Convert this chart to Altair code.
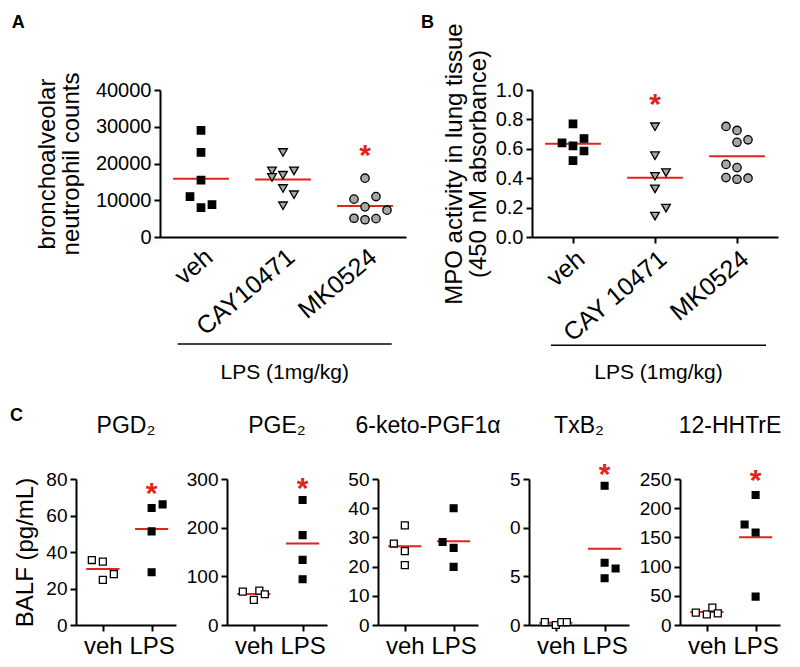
import altair as alt
import pandas as pd

FONT = "Liberation Sans"
RED = "#e2231a"
GRAY = "#a6a6a6"
SLOT_PX = 11.0

# ---------------- Panel A: bronchoalveolar neutrophil counts ----------------
A_GROUPS = ["veh", "CAY10471", "MK0524"]
A_VEH = [29000, 23000, 15500, 11000, 8000, 8800]
A_VEH_SLOT = [0, 0, 0, -1, 0, 1]
A_CAY = [23000, 18000, 18000, 16200, 16800, 13200, 11500, 8500]
A_CAY_SLOT = [0, -1, 1, -1, 0, 0, 1, 0]
A_MK = [16000, 10300, 11000, 8200, 7300, 5100, 4700, 5000]
A_MK_SLOT = [0, -1, 1, 0, 2, -1, 0, 1]
A_YTICKS = [0, 10000, 20000, 30000, 40000]
A_STAR = [(2, 24300)]
A_YTITLE = ["bronchoalveolar", "neutrophil counts"]

# ---------------- Panel B: MPO activity ----------------
B_GROUPS = ["veh", "CAY 10471", "MK0524"]
B_VEH = [0.77, 0.64, 0.67, 0.62, 0.585, 0.52]
B_VEH_SLOT = [0, -1, 1, 0, 1, 0]
B_CAY = [0.75, 0.553, 0.413, 0.438, 0.327, 0.196, 0.142]
B_CAY_SLOT = [0, 0, 0, 1, 0, 1, 0]
B_MK = [0.752, 0.725, 0.644, 0.661, 0.494, 0.472, 0.404, 0.393, 0.400]
B_MK_SLOT = [-1, 0, 0, 1, -1, 0, -1, 0, 1]
B_YTICKS = [0, 0.2, 0.4, 0.6, 0.8, 1.0]
B_STAR = [(1, 0.95)]
B_YTITLE = ["MPO activity in lung tissue", "(450 nM absorbance)"]

LPS_TEXT = "LPS (1mg/kg)"

# ---------------- Panel C: BALF eicosanoids ----------------
C_GROUPS = ["veh", "LPS"]
C_YTITLE = "BALF (pg/mL)"

PGD2_TITLE = "PGD₂"
PGD2_VEH = [35.6, 34.7, 24.7, 27.9]
PGD2_VEH_SLOT = [-1, 0, 0, 1]
PGD2_LPS = [64.1, 66.1, 51.3, 28.9]
PGD2_LPS_SLOT = [0, 1, 0, 0]
PGD2_YTICKS = [0, 20, 40, 60, 80]
PGD2_STAR = [(1, 76)]

PGE2_TITLE = "PGE₂"
PGE2_VEH = [68.6, 51.5, 70.7, 63.2]
PGE2_VEH_SLOT = [-1, 0, 0.5, 1]
PGE2_LPS = [256.8, 184.7, 133.9, 94.0]
PGE2_LPS_SLOT = [0, 0, 0, 0]
PGE2_YTICKS = [0, 100, 200, 300]
PGE2_STAR = [(1, 295)]

KETO_TITLE = "6-keto-PGF1α"
KETO_VEH = [34.1, 27.9, 25.3, 20.5]
KETO_VEH_SLOT = [0, -1, 0, 0]
KETO_LPS = [40.0, 28.4, 26.4, 19.9]
KETO_LPS_SLOT = [0, -1, 0, 0]
KETO_YTICKS = [0, 10, 20, 30, 40, 50]
KETO_STAR = []

TXB2_TITLE = "TxB₂"
TXB2_VEH = [0.3, 0.0, 0.3, 0.3]
TXB2_VEH_SLOT = [-1, 0, 0.5, 1]
TXB2_LPS = [14.3, 6.4, 5.8, 4.8]
TXB2_LPS_SLOT = [0, 0, 1, 0]
TXB2_YTICKS = [0, 5, 10, 15]
TXB2_STAR = [(1, 16.2)]

HHT_TITLE = "12-HHTrE"
HHT_VEH = [21.2, 18.3, 29.7, 20.0]
HHT_VEH_SLOT = [-1, 0, 0.5, 1]
HHT_LPS = [222.5, 172.2, 158.5, 48.6]
HHT_LPS_SLOT = [0, -1, 0, 0]
HHT_YTICKS = [0, 50, 100, 150, 200, 250]
HHT_STAR = [(1, 261)]

# ---------------- styles / layout ----------------
AB_STYLES = [("square", "black", 55), ("triangle-down", GRAY, 75), ("circle", GRAY, 70)]
C_STYLES = [("square", "white", 48), ("square", "black", 46)]

AB_W, AB_H = 246, 147
C_W, C_H = 100, 146
AB_XDOM = [-0.5, 2.5]
C_XDOM = [-0.55, 1.5]
HALF_LINE = 0.34

ONE = pd.DataFrame({"k": [0]})


def points_df(value_lists, slot_lists, styles, step_px):
    rows = []
    for i, (vals, slots) in enumerate(zip(value_lists, slot_lists)):
        shape, fill, size = styles[i]
        for v, s in zip(vals, slots):
            rows.append(dict(idx=i, value=v, xpos=i + s * SLOT_PX / step_px,
                             shape=shape, fill=fill, size=size))
    return pd.DataFrame(rows)


def label_expr(labels):
    return "[" + ",".join("'" + l + "'" for l in labels) + "][datum.value]"


def txt(text, x, y, size, weight="normal", align="center"):
    return alt.Chart(ONE).mark_text(text=text, font=FONT, fontSize=size, fontWeight=weight,
                                    align=align, baseline="alphabetic", color="black").encode(
        x=alt.value(x), y=alt.value(y))


def hline(x1, x2, y):
    return alt.Chart(ONE).mark_rule(color="black", strokeWidth=1.6).encode(
        x=alt.value(x1), x2=alt.value(x2), y=alt.value(y))


def dot_panel(df, stars, groups, width, height, xdomain, ydomain, yticks, yfmt,
              ytitle, xangle, xlabel_size, ylabel_size, xticks_on, ytitle_pad,
              xlabel_pad, extras, ylabel_expr=None, title_lh=24):
    xscale = alt.Scale(domain=xdomain, nice=False, zero=False)
    yscale = alt.Scale(domain=ydomain, nice=False, zero=False)
    xaxis = alt.Axis(values=list(range(len(groups))), labelExpr=label_expr(groups),
                     labelAngle=xangle, labelFontSize=xlabel_size, ticks=xticks_on,
                     title=None, labelPadding=xlabel_pad, grid=False,
                     labelOverlap=False, labelBound=False, labelFlush=False)
    ykw = dict(values=yticks, format=yfmt, labelFontSize=ylabel_size, grid=False,
               labelPadding=3, titleFontSize=24, titlePadding=ytitle_pad,
               titleLineHeight=title_lh, labelOverlap=False)
    if ylabel_expr:
        ykw["labelExpr"] = ylabel_expr
    if ytitle:
        ykw["title"] = ytitle
    else:
        ykw["title"] = None
    yaxis = alt.Axis(**ykw)
    base = alt.Chart(df)
    rules = base.transform_aggregate(m="mean(value)", groupby=["idx"]).transform_calculate(
        lo=f"datum.idx - {HALF_LINE}", hi=f"datum.idx + {HALF_LINE}").mark_rule(
        color=RED, strokeWidth=2).encode(
        x=alt.X("lo:Q", scale=xscale, axis=xaxis), x2="hi:Q",
        y=alt.Y("m:Q", scale=yscale, axis=yaxis))
    pts = base.mark_point(opacity=1, stroke="black", strokeWidth=1.3).encode(
        x=alt.X("xpos:Q", scale=xscale, axis=xaxis),
        y=alt.Y("value:Q", scale=yscale, axis=yaxis),
        shape=alt.Shape("shape:N", scale=None),
        fill=alt.Fill("fill:N", scale=None),
        size=alt.Size("size:Q", scale=None))
    layers = [rules, pts]
    if stars:
        sdf = pd.DataFrame(stars, columns=["idx", "y"])
        layers.append(alt.Chart(sdf).mark_text(
            text="*", color=RED, font=FONT, fontSize=30, fontWeight="bold",
            baseline="alphabetic", dy=17).encode(
            x=alt.X("idx:Q", scale=xscale, axis=xaxis),
            y=alt.Y("y:Q", scale=yscale, axis=yaxis)))
    layers += extras
    return alt.layer(*layers).properties(width=width, height=height)


AB_STEP = AB_W / (AB_XDOM[1] - AB_XDOM[0])
C_STEP = C_W / (C_XDOM[1] - C_XDOM[0])

dfA = points_df([A_VEH, A_CAY, A_MK], [A_VEH_SLOT, A_CAY_SLOT, A_MK_SLOT], AB_STYLES, AB_STEP)
panelA = dot_panel(dfA, A_STAR, A_GROUPS, AB_W, AB_H, AB_XDOM, [0, 40000], A_YTICKS, "d",
                   A_YTITLE, -40, 25, 20, False, 12, 7,
                   [txt("A", -141.7, -61.7, 18, "bold"),
                    hline(17.7, 231.7, 254),
                    txt(LPS_TEXT, 124.7, 289, 21)])

dfB = points_df([B_VEH, B_CAY, B_MK], [B_VEH_SLOT, B_CAY_SLOT, B_MK_SLOT], AB_STYLES, AB_STEP)
panelB = dot_panel(dfB, B_STAR, B_GROUPS, AB_W, AB_H, AB_XDOM, [0, 1.0], B_YTICKS, ".1f",
                   B_YTITLE, -40, 25, 20, True, 5, 3,
                   [txt("B", -104.5, -62.4, 18, "bold"),
                    hline(19, 234, 255.3),
                    txt(LPS_TEXT, 126.5, 289, 21)])


def c_panel(title, veh, veh_slot, lps, lps_slot, ymax, yticks, star, ytitle=None,
            extras=None, ylabel_expr=None):
    df = points_df([veh, lps], [veh_slot, lps_slot], C_STYLES, C_STEP)
    ex = [txt(title, C_W / 2, -45.7, 23)]
    if extras:
        ex += extras
    return dot_panel(df, star, C_GROUPS, C_W, C_H, C_XDOM, [0, ymax], yticks, "d",
                     ytitle, 0, 24, 19, True, 8, 3, ex, ylabel_expr=ylabel_expr)


c1 = c_panel(PGD2_TITLE, PGD2_VEH, PGD2_VEH_SLOT, PGD2_LPS, PGD2_LPS_SLOT, 80, PGD2_YTICKS,
             PGD2_STAR, ytitle=C_YTITLE, extras=[txt("C", -59.5, -57.7, 18, "bold")])
c2 = c_panel(PGE2_TITLE, PGE2_VEH, PGE2_VEH_SLOT, PGE2_LPS, PGE2_LPS_SLOT, 300, PGE2_YTICKS,
             PGE2_STAR)
c3 = c_panel(KETO_TITLE, KETO_VEH, KETO_VEH_SLOT, KETO_LPS, KETO_LPS_SLOT, 50, KETO_YTICKS,
             KETO_STAR)
c4 = c_panel(TXB2_TITLE, TXB2_VEH, TXB2_VEH_SLOT, TXB2_LPS, TXB2_LPS_SLOT, 15, TXB2_YTICKS,
             TXB2_STAR, ylabel_expr="'' + (datum.value % 10)")
c5 = c_panel(HHT_TITLE, HHT_VEH, HHT_VEH_SLOT, HHT_LPS, HHT_LPS_SLOT, 250, HHT_YTICKS,
             HHT_STAR)

spacer = alt.Chart(ONE).mark_point(opacity=0).encode(
    x=alt.value(0), y=alt.value(0)).properties(width=1, height=1)

top = alt.hconcat(spacer, alt.hconcat(panelA, panelB, spacing=126, bounds="flush"),
                  spacing=83, bounds="flush")
bottom = alt.hconcat(c1, c2, c3, c4, c5, spacing=51, bounds="flush")

chart = alt.vconcat(top, bottom, spacing=389, bounds="flush").properties(
    padding={"left": 2, "top": 5, "right": 5, "bottom": 5}, background="white"
).configure_view(stroke=None).configure_axis(
    domainColor="black", domainWidth=2, tickColor="black", tickWidth=2, tickSize=6,
    labelColor="black", titleColor="black", labelFont=FONT, titleFont=FONT,
    titleFontWeight="normal", grid=False)

chart.save("out.html", embed_options={"renderer": "svg", "actions": False})
